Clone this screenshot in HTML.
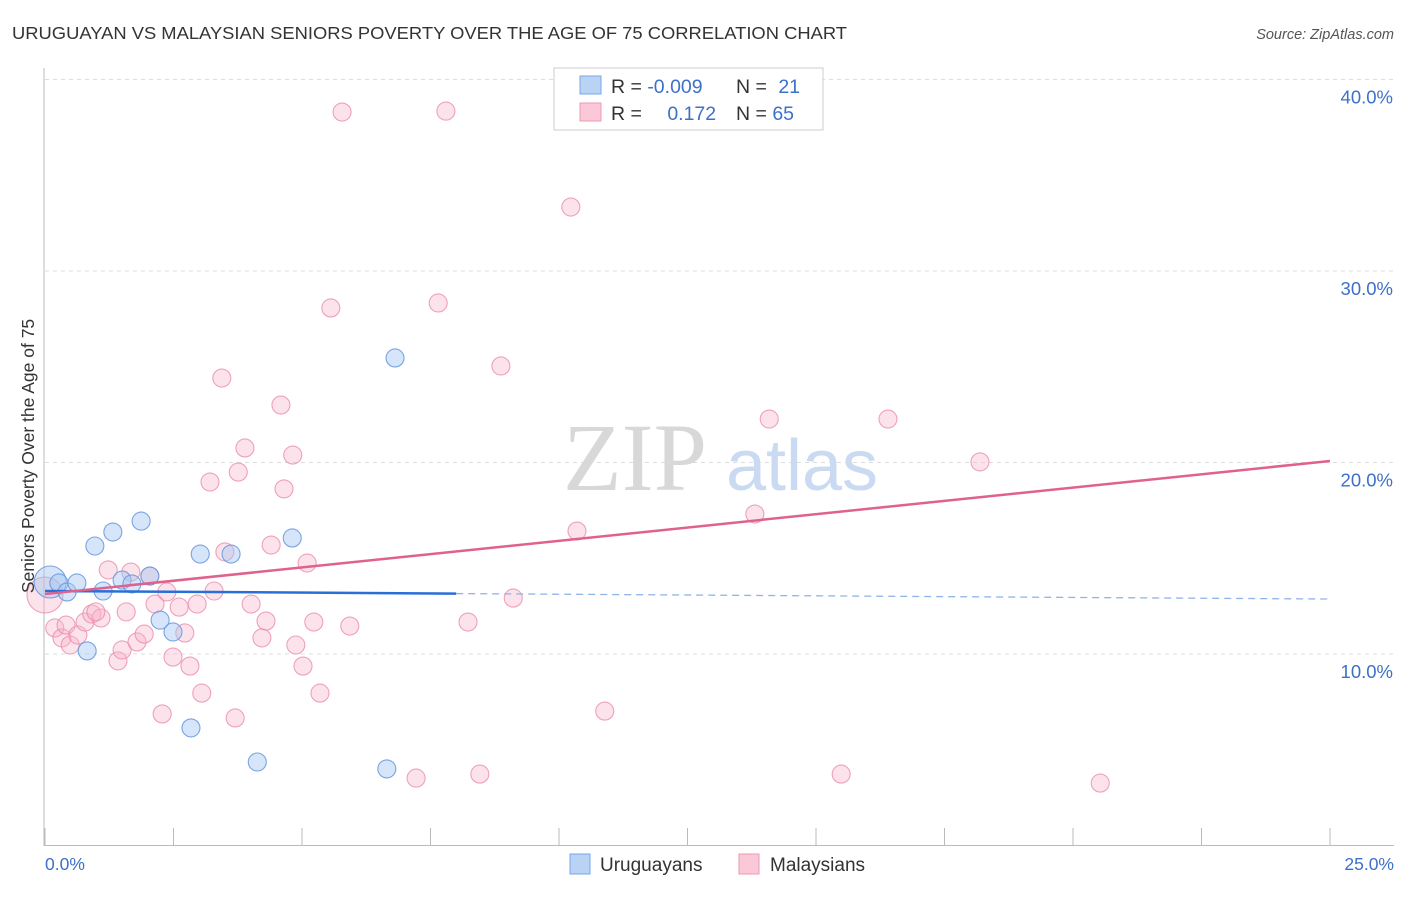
<!DOCTYPE html>
<html><head><meta charset="utf-8"><style>
body{margin:0;background:#fff;font-family:"Liberation Sans",sans-serif}
svg text{font-family:"Liberation Sans",sans-serif}
</style></head><body>
<svg width="1406" height="892" viewBox="0 0 1406 892">
<text x="12" y="39" font-size="17.5" fill="#333" textLength="835" lengthAdjust="spacingAndGlyphs">URUGUAYAN VS MALAYSIAN SENIORS POVERTY OVER THE AGE OF 75 CORRELATION CHART</text>
<text x="1394" y="39" font-size="14.5" fill="#555" font-style="italic" text-anchor="end">Source: ZipAtlas.com</text>
<g id="grid"></g>
<text x="635" y="490" font-size="96" fill="#d8d8d8" text-anchor="middle" style="font-family:'Liberation Serif',serif">ZIP</text>
<text x="802" y="490" font-size="72" fill="#c9daf2" text-anchor="middle">atlas</text>
<g id="axes"></g>
<g id="marks"></g>
<g id="trends"></g>
<text transform="translate(34,456) rotate(-90)" font-size="17.5" fill="#333" text-anchor="middle">Seniors Poverty Over the Age of 75</text>
<text x="45" y="870" font-size="17.5" fill="#3d70c8">0.0%</text>
<text x="1394" y="870" font-size="17.5" fill="#3d70c8" text-anchor="end">25.0%</text>
<g>
<rect x="554" y="68" width="269" height="62" fill="#fff" stroke="#ccc"/>
<rect x="580" y="76" width="21" height="18" fill="#b9d3f5" stroke="#7aa6e6"/>
<rect x="580" y="103" width="21" height="18" fill="#fac8d6" stroke="#ee9ab4"/>
<text x="611" y="93" font-size="19.5" fill="#333">R = <tspan fill="#3d70c8">-0.009</tspan></text>
<text x="736" y="93" font-size="19.5" fill="#333">N = <tspan fill="#3d70c8" dx="6">21</tspan></text>
<text x="611" y="120" font-size="19.5" fill="#333">R = <tspan fill="#3d70c8" dx="20">0.172</tspan></text>
<text x="736" y="120" font-size="19.5" fill="#333">N = <tspan fill="#3d70c8">65</tspan></text>
</g>
<g>
<rect x="570" y="854" width="20" height="20" fill="#b9d3f5" stroke="#7aa6e6"/>
<text x="600" y="871" font-size="19" fill="#333">Uruguayans</text>
<rect x="739" y="854" width="20" height="20" fill="#fac8d6" stroke="#ee9ab4"/>
<text x="770" y="871" font-size="19" fill="#333">Malaysians</text>
</g>
</svg>
<script>
const yTicks=[10,20,30,40];
const yTickLabels=["10.0%","20.0%","30.0%","40.0%"];
const xTicks=[0,2.5,5,7.5,10,12.5,15,17.5,20,22.5,25];
const uruX=[0.1,0.27,0.43,0.62,0.97,1.32,1.87,1.5,1.69,2.04,2.24,2.49,0.82,2.84,3.02,3.62,4.13,4.81,6.81,6.65,1.13];
const uruY=[13.76,13.71,13.24,13.71,15.64,16.37,16.94,13.86,13.66,14.07,11.77,11.15,10.16,6.14,15.22,15.22,4.36,16.06,25.46,4.0,13.29];
const malX=[0,0.19,0.33,0.49,0.41,0.64,0.78,0.91,1.09,0.99,1.23,1.42,1.5,1.58,1.67,1.79,1.93,2.04,2.14,2.28,2.37,2.49,2.61,2.72,2.82,2.96,3.05,3.21,3.29,3.44,3.5,3.7,3.76,3.89,4.01,4.22,4.3,4.4,4.59,4.65,4.82,4.88,5.02,5.1,5.23,5.35,5.56,5.78,5.93,7.22,7.65,7.8,8.23,8.46,8.87,9.11,10.23,10.35,10.89,13.81,14.09,15.49,16.4,18.19,20.53];
const malY=[13.08,11.36,10.84,10.47,11.51,10.99,11.67,12.09,11.88,12.2,14.39,9.64,10.21,12.2,14.28,10.63,11.04,14.07,12.61,6.87,13.24,9.84,12.45,11.1,9.37,12.61,7.96,18.98,13.29,24.41,15.33,6.66,19.5,20.76,12.61,10.84,11.72,15.69,23.0,18.62,20.39,10.47,9.37,14.75,11.67,7.96,28.07,38.3,11.46,3.52,28.33,38.35,11.67,3.73,25.04,12.92,33.34,16.42,7.02,17.31,22.27,3.73,22.27,20.03,3.26];
const uruTrend=[13.29,12.87];
const malTrend=[13.13,20.08];
const uruSolidEnd=8;
const NS='http://www.w3.org/2000/svg';
const sx=v=>45+v/25*1285;
const sy=v=>845.5-v*19.15;
function mk(tag,attrs,parent){const e=document.createElementNS(NS,tag);for(const k in attrs)e.setAttribute(k,attrs[k]);parent.appendChild(e);return e;}
const grid=document.getElementById('grid'),axes=document.getElementById('axes'),marks=document.getElementById('marks'),trends=document.getElementById('trends');
yTicks.forEach((t,i)=>{
 const l=mk('line',{x1:45,x2:1394,y1:sy(t),y2:sy(t),stroke:'#ddd','stroke-dasharray':'4,4'},grid);
 
 
 const tx=mk('text',{x:1393,y:sy(t)+24,'font-size':18.5,fill:'#3d70c8','text-anchor':'end'},grid);
 tx.textContent=yTickLabels[i];
 
 
});
const ya=mk('line',{x1:44,x2:44,y1:68,y2:846,stroke:'#bbb'},axes);


const xa=mk('line',{x1:44,x2:1394,y1:845.5,y2:845.5,stroke:'#bbb'},axes);


xTicks.forEach(t=>{
 const l=mk('line',{x1:sx(t),x2:sx(t),y1:828,y2:846,stroke:'#bbb'},axes);
 
 
});
malX.forEach((x,i)=>{
 const c=mk('circle',{cx:sx(x),cy:sy(malY[i]),r:i===0?18:9,fill:'rgba(248,182,202,0.38)',stroke:'rgba(235,140,170,0.8)','stroke-width':1.1},marks);
 
 
});
uruX.forEach((x,i)=>{
 const c=mk('circle',{cx:sx(x),cy:sy(uruY[i]),r:i===0?16:9,fill:'rgba(165,198,242,0.45)',stroke:'rgba(100,150,222,0.85)','stroke-width':1.1},marks);
 
 
});
const uy=x=>uruTrend[0]+(uruTrend[1]-uruTrend[0])*x/25;
const t1=mk('line',{x1:sx(0),y1:sy(uy(0)),x2:sx(uruSolidEnd),y2:sy(uy(uruSolidEnd)),stroke:'#2a6fd6','stroke-width':2.5},trends);


const t2=mk('line',{x1:sx(uruSolidEnd),y1:sy(uy(uruSolidEnd)),x2:sx(25),y2:sy(uy(25)),stroke:'#8fb4e8','stroke-width':1.3,'stroke-dasharray':'7,5'},trends);


const t3=mk('line',{x1:sx(0),y1:sy(malTrend[0]),x2:sx(25),y2:sy(malTrend[1]),stroke:'#e0628c','stroke-width':2.5},trends);


</script>
</body></html>
